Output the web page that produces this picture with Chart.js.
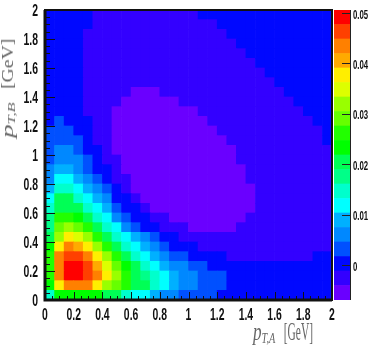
<!DOCTYPE html>
<html>
<head>
<meta charset="utf-8">
<script src="https://cdn.jsdelivr.net/npm/chart.js@4/dist/chart.umd.min.js"></script>
<style>
  body { margin: 0; background: #fff; width: 382px; height: 354px; overflow: hidden; position: relative; }
  canvas { position: absolute; top: 0; }
  #main_chart { left: 0; }
  #palette_chart { left: 334px; }
  .title { position: absolute; font-family: "Liberation Serif", serif; color: #666; white-space: nowrap; line-height: 20px; transform-origin: left top; }
  .title i { display: inline-block; transform-origin: left center; }
  .title sub { font-size: 60%; vertical-align: -0.25em; line-height: 0; }
  #x_title { left: 253px; top: 321px; font-size: 22px; transform: scale(0.52, 1.1); }
  #x_title i { transform: scaleX(1.5); margin-right: 25px; }
  #y_title { left: -2px; top: 138px; font-size: 16px; transform: rotate(-90deg) scale(1.23, 1); }
  #y_title i { transform: scaleX(1.38); margin-right: 15px; }
</style>
</head>
<body>
<canvas id="main_chart" width="382" height="354"></canvas>
<canvas id="palette_chart" width="48" height="354"></canvas>
<div class="title" id="x_title"><i>p<sub>T,A</sub></i> [GeV]</div>
<div class="title" id="y_title"><i>p<sub>T,B</sub></i> [GeV]</div>

<script>
// axis ranges and ticks
const x_range = [0, 2];
const y_range = [0, 2];
const major_step = 0.2;
const minor_step = 0.05;

// palette bins, in units of 1e-3 (bottom to top)
const z_min = -6.9;
const z_max = 50.6;
const z_tick_step = 10;
const palette = [
  '#6a00ff', '#3300ff', '#0008ff', '#0050ff', '#0088ff',
  '#00b0ff', '#00ffff', '#00ffcc', '#00ff88', '#00ff55',
  '#00ff00', '#22ff00', '#66ff00', '#99ff00', '#ddff00',
  '#ffee00', '#ffaa00', '#ff8000', '#ff4000', '#ff0000'
];

// cell values, in units of 1e-3. first row is the bottom one
const z_rows = [
  [14.7,23.3,23.3,23.3,23.3,23.3,20.4,20.4,14.7,11.8,11.8,8.9,6,6,3.2,3.2,3.2,3.2,.3,.3,.3,.3,.3,.3,.3,.3,.3,.3,.3,.3],
  [23.3,37.7,43.4,43.4,43.4,37.7,31.9,29,26.2,20.4,20.4,14.7,11.8,8.9,6,6,3.2,3.2,3.2,.3,.3,.3,.3,.3,.3,.3,.3,.3,.3,.3],
  [26.2,43.4,49.2,49.2,46.3,43.4,37.7,31.9,26.2,20.4,17.5,14.7,11.8,8.9,6,6,3.2,3.2,3.2,.3,.3,.3,.3,.3,.3,.3,.3,.3,.3,.3],
  [26.2,43.4,49.2,49.2,46.3,40.5,34.8,29,23.3,20.4,14.7,11.8,8.9,6,6,3.2,3.2,.3,.3,.3,.3,.3,.3,.3,.3,.3,.3,.3,.3,.3],
  [26.2,43.4,46.3,46.3,43.4,37.7,31.9,26.2,20.4,14.7,11.8,8.9,6,3.2,3.2,.3,.3,.3,.3,-2.6,-2.6,-2.6,-2.6,-2.6,-2.6,-2.6,-2.6,-2.6,.3,.3],
  [23.3,37.7,43.4,40.5,37.7,31.9,26.2,20.4,14.7,11.8,8.9,6,3.2,.3,.3,.3,-2.6,-2.6,-2.6,-2.6,-2.6,-2.6,-2.6,-2.6,-2.6,-2.6,-2.6,-2.6,-2.6,-2.6],
  [20.4,31.9,37.7,34.8,31.9,26.2,20.4,14.7,11.8,8.9,6,3.2,.3,.3,-2.6,-2.6,-2.6,-2.6,-2.6,-2.6,-2.6,-2.6,-2.6,-2.6,-2.6,-2.6,-2.6,-2.6,-2.6,-2.6],
  [17.5,29,31.9,29,26.2,20.4,14.7,11.8,6,3.2,.3,.3,-2.6,-2.6,-2.6,-5.5,-5.5,-5.5,-5.5,-5.5,-2.6,-2.6,-2.6,-2.6,-2.6,-2.6,-2.6,-2.6,-2.6,-2.6],
  [17.5,26.2,26.2,23.3,20.4,14.7,11.8,6,3.2,.3,.3,-2.6,-2.6,-5.5,-5.5,-5.5,-5.5,-5.5,-5.5,-5.5,-5.5,-2.6,-2.6,-2.6,-2.6,-2.6,-2.6,-2.6,-2.6,-2.6],
  [14.7,20.4,20.4,20.4,14.7,11.8,8.9,3.2,.3,.3,-2.6,-5.5,-5.5,-5.5,-5.5,-5.5,-5.5,-5.5,-5.5,-5.5,-5.5,-5.5,-2.6,-2.6,-2.6,-2.6,-2.6,-2.6,-2.6,-2.6],
  [11.8,20.4,20.4,14.7,11.8,8.9,6,.3,.3,-2.6,-5.5,-5.5,-5.5,-5.5,-5.5,-5.5,-5.5,-5.5,-5.5,-5.5,-5.5,-5.5,-2.6,-2.6,-2.6,-2.6,-2.6,-2.6,-2.6,-2.6],
  [8.9,14.7,14.7,11.8,8.9,6,3.2,.3,-2.6,-5.5,-5.5,-5.5,-5.5,-5.5,-5.5,-5.5,-5.5,-5.5,-5.5,-5.5,-5.5,-5.5,-2.6,-2.6,-2.6,-2.6,-2.6,-2.6,-2.6,-2.6],
  [6,11.8,11.8,8.9,6,3.2,.3,-2.6,-2.6,-5.5,-5.5,-5.5,-5.5,-5.5,-5.5,-5.5,-5.5,-5.5,-5.5,-5.5,-5.5,-2.6,-2.6,-2.6,-2.6,-2.6,-2.6,-2.6,-2.6,-2.6],
  [6,8.9,8.9,6,3.2,.3,.3,-2.6,-5.5,-5.5,-5.5,-5.5,-5.5,-5.5,-5.5,-5.5,-5.5,-5.5,-5.5,-5.5,-5.5,-2.6,-2.6,-2.6,-2.6,-2.6,-2.6,-2.6,-2.6,-2.6],
  [3.2,6,6,6,3.2,.3,-2.6,-2.6,-5.5,-5.5,-5.5,-5.5,-5.5,-5.5,-5.5,-5.5,-5.5,-5.5,-5.5,-5.5,-2.6,-2.6,-2.6,-2.6,-2.6,-2.6,-2.6,-2.6,-2.6,-2.6],
  [3.2,6,6,3.2,.3,.3,-2.6,-5.5,-5.5,-5.5,-5.5,-5.5,-5.5,-5.5,-5.5,-5.5,-5.5,-5.5,-5.5,-5.5,-2.6,-2.6,-2.6,-2.6,-2.6,-2.6,-2.6,-2.6,-2.6,-2.6],
  [3.2,3.2,3.2,3.2,.3,-2.6,-2.6,-5.5,-5.5,-5.5,-5.5,-5.5,-5.5,-5.5,-5.5,-5.5,-5.5,-5.5,-5.5,-2.6,-2.6,-2.6,-2.6,-2.6,-2.6,-2.6,-2.6,-2.6,-2.6,.3],
  [3.2,3.2,3.2,.3,.3,-2.6,-2.6,-5.5,-5.5,-5.5,-5.5,-5.5,-5.5,-5.5,-5.5,-5.5,-5.5,-5.5,-2.6,-2.6,-2.6,-2.6,-2.6,-2.6,-2.6,-2.6,-2.6,-2.6,-2.6,.3],
  [.3,3.2,.3,.3,.3,-2.6,-2.6,-5.5,-5.5,-5.5,-5.5,-5.5,-5.5,-5.5,-5.5,-5.5,-5.5,-2.6,-2.6,-2.6,-2.6,-2.6,-2.6,-2.6,-2.6,-2.6,-2.6,-2.6,.3,.3],
  [.3,.3,.3,.3,-2.6,-2.6,-2.6,-5.5,-5.5,-5.5,-5.5,-5.5,-5.5,-5.5,-5.5,-5.5,-2.6,-2.6,-2.6,-2.6,-2.6,-2.6,-2.6,-2.6,-2.6,-2.6,-2.6,.3,.3,.3],
  [.3,.3,.3,.3,-2.6,-2.6,-2.6,-2.6,-5.5,-5.5,-5.5,-5.5,-5.5,-5.5,-2.6,-2.6,-2.6,-2.6,-2.6,-2.6,-2.6,-2.6,-2.6,-2.6,-2.6,-2.6,.3,.3,.3,.3],
  [.3,.3,.3,.3,-2.6,-2.6,-2.6,-2.6,-2.6,-5.5,-5.5,-5.5,-2.6,-2.6,-2.6,-2.6,-2.6,-2.6,-2.6,-2.6,-2.6,-2.6,-2.6,-2.6,-2.6,.3,.3,.3,.3,.3],
  [.3,.3,.3,.3,-2.6,-2.6,-2.6,-2.6,-2.6,-2.6,-2.6,-2.6,-2.6,-2.6,-2.6,-2.6,-2.6,-2.6,-2.6,-2.6,-2.6,-2.6,-2.6,-2.6,.3,.3,.3,.3,.3,.3],
  [.3,.3,.3,.3,-2.6,-2.6,-2.6,-2.6,-2.6,-2.6,-2.6,-2.6,-2.6,-2.6,-2.6,-2.6,-2.6,-2.6,-2.6,-2.6,-2.6,-2.6,-2.6,.3,.3,.3,.3,.3,.3,.3],
  [.3,.3,.3,.3,-2.6,-2.6,-2.6,-2.6,-2.6,-2.6,-2.6,-2.6,-2.6,-2.6,-2.6,-2.6,-2.6,-2.6,-2.6,-2.6,-2.6,-2.6,.3,.3,.3,.3,.3,.3,.3,.3],
  [.3,.3,.3,.3,-2.6,-2.6,-2.6,-2.6,-2.6,-2.6,-2.6,-2.6,-2.6,-2.6,-2.6,-2.6,-2.6,-2.6,-2.6,-2.6,-2.6,.3,.3,.3,.3,.3,.3,.3,.3,.3],
  [.3,.3,.3,.3,-2.6,-2.6,-2.6,-2.6,-2.6,-2.6,-2.6,-2.6,-2.6,-2.6,-2.6,-2.6,-2.6,-2.6,-2.6,-2.6,.3,.3,.3,.3,.3,.3,.3,.3,.3,.3],
  [.3,.3,.3,.3,-2.6,-2.6,-2.6,-2.6,-2.6,-2.6,-2.6,-2.6,-2.6,-2.6,-2.6,-2.6,-2.6,-2.6,-2.6,.3,.3,.3,.3,.3,.3,.3,.3,.3,.3,.3],
  [.3,.3,.3,.3,.3,-2.6,-2.6,-2.6,-2.6,-2.6,-2.6,-2.6,-2.6,-2.6,-2.6,-2.6,-2.6,-2.6,.3,.3,.3,.3,.3,.3,.3,.3,.3,.3,.3,.3],
  [.3,.3,.3,.3,.3,-2.6,-2.6,-2.6,-2.6,-2.6,-2.6,-2.6,-2.6,-2.6,-2.6,-2.6,.3,.3,.3,.3,.3,.3,.3,.3,.3,.3,.3,.3,.3,.3]
];

const label_font = 'bold 16px "Liberation Sans", sans-serif';
const palette_font = 'bold 13px "Liberation Sans", sans-serif';
const z_bin = (z_max - z_min) / palette.length;
const x_bin = (x_range[1] - x_range[0]) / z_rows[0].length;
const y_bin = (y_range[1] - y_range[0]) / z_rows.length;

function color_of(value)
{
    let bin = Math.floor((value - z_min) / z_bin);
    return palette[Math.max(0, Math.min(palette.length - 1, bin))];
}

// the labels of the original are squeezed sideways, no installed font is that narrow
function squeezed_text(ctx, text, x, y, squeeze, align)
{
    ctx.save();
    ctx.translate(x, y);
    ctx.scale(squeeze, 1);
    ctx.textAlign = align;
    ctx.textBaseline = 'middle';
    ctx.fillText(text, 0, 0);
    ctx.restore();
}

// one floating bar dataset per row of cells
let cell_datasets = z_rows.map((row, j) => ({
    data: row.map((value, i) => ({ x: x_range[0] + (i + 0.5) * x_bin, y: [y_range[0] + j * y_bin, y_range[0] + (j + 1) * y_bin] })),
    backgroundColor: row.map(color_of),
    borderWidth: 0,
    barPercentage: 1,
    categoryPercentage: 1,
    grouped: false
}));

// ticks go inside the frame, like the original
const frame_plugin = {
    id: 'frame_plugin',
    afterDraw(chart)
    {
        const { ctx, chartArea: area, scales } = chart;
        ctx.save();
        ctx.strokeStyle = '#111';
        ctx.lineWidth = 1;
        ctx.beginPath();
        for (let n = 0; n <= 40; n++) {
            let v = n * minor_step;
            let major = n % 4 === 0;
            let px = Math.round(scales.x.getPixelForValue(v)) + 0.5;
            let py = Math.round(scales.y.getPixelForValue(v)) + 0.5;
            ctx.moveTo(px, area.bottom);
            ctx.lineTo(px, area.bottom - (major ? 8 : 4));
            ctx.moveTo(area.left, py);
            ctx.lineTo(area.left + (major ? 10 : 5), py);
        }
        ctx.stroke();
        ctx.lineWidth = 2;
        ctx.strokeRect(area.left, area.top, area.right - area.left, area.bottom - area.top);
        ctx.beginPath();
        ctx.lineWidth = 3;
        ctx.moveTo(area.left, area.top);
        ctx.lineTo(area.left, area.bottom);
        ctx.lineTo(area.right, area.bottom);
        ctx.stroke();

        ctx.fillStyle = '#111';
        ctx.font = label_font;
        scales.x.ticks.forEach(t => squeezed_text(ctx, t.label, scales.x.getPixelForValue(t.value), 316, 0.65, 'center'));
        scales.y.ticks.forEach(t => squeezed_text(ctx, t.label, 38, scales.y.getPixelForValue(t.value) + 2, 0.65, 'right'));
        ctx.restore();
    }
};

new Chart(document.querySelector('#main_chart').getContext('2d'), {
    type: 'bar',
    data: { datasets: cell_datasets },
    plugins: [frame_plugin],
    options: {
        responsive: false,
        animation: false,
        events: [],
        layout: { padding: { top: 10, right: 50, left: 0, bottom: 0 } },
        plugins: { legend: { display: false }, tooltip: { enabled: false } },
        scales: {
            x: {
                type: 'linear', min: x_range[0], max: x_range[1], offset: false,
                grid: { display: false }, border: { display: false },
                afterFit(scale) { scale.height = 54; },
                ticks: { display: false, stepSize: major_step, callback: v => String(Number(v.toFixed(1))) }
            },
            y: {
                min: y_range[0], max: y_range[1],
                grid: { display: false }, border: { display: false },
                afterFit(scale) { scale.width = 45; },
                ticks: { display: false, stepSize: major_step, callback: v => String(Number(v.toFixed(1))) }
            }
        }
    }
});

// colour bar on its own canvas
const palette_ticks_plugin = {
    id: 'palette_ticks_plugin',
    afterDraw(chart)
    {
        const { ctx, chartArea: area, scales } = chart;
        ctx.save();
        ctx.strokeStyle = '#222';
        ctx.lineWidth = 1;
        ctx.beginPath();
        scales.y.ticks.forEach(t => {
            let py = Math.round(scales.y.getPixelForValue(t.value)) + 0.5;
            ctx.moveTo(area.right, py);
            ctx.lineTo(area.right - 9, py);
        });
        ctx.moveTo(area.right - 0.5, area.top);
        ctx.lineTo(area.right - 0.5, area.bottom);
        ctx.stroke();
        ctx.fillStyle = '#111';
        ctx.font = palette_font;
        scales.y.ticks.forEach(t => squeezed_text(ctx, t.label, area.right + 2, scales.y.getPixelForValue(t.value) + 2, 0.6, 'left'));
        ctx.restore();
    }
};

new Chart(document.querySelector('#palette_chart').getContext('2d'), {
    type: 'bar',
    data: {
        labels: [''],
        datasets: palette.map((color, n) => ({
            data: [[z_min + n * z_bin, z_min + (n + 1) * z_bin]],
            backgroundColor: color,
            borderWidth: 0,
            barPercentage: 1,
            categoryPercentage: 1,
            grouped: false
        }))
    },
    plugins: [palette_ticks_plugin],
    options: {
        responsive: false,
        animation: false,
        events: [],
        layout: { padding: { top: 10, right: 0, left: 0, bottom: 54 } },
        plugins: { legend: { display: false }, tooltip: { enabled: false } },
        scales: {
            x: { display: false },
            y: {
                position: 'right', min: z_min, max: z_max,
                grid: { display: false }, border: { display: false },
                afterFit(scale) { scale.width = 31; },
                ticks: { display: false, stepSize: z_tick_step, includeBounds: false, callback: v => v === 0 ? '0' : (v / 1000).toFixed(2) }
            }
        }
    }
});
</script>
</body>
</html>
